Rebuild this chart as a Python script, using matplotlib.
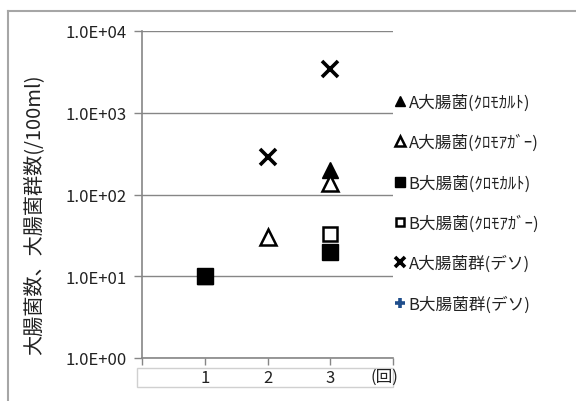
import matplotlib
matplotlib.use("Agg")
import matplotlib.pyplot as plt
import numpy as np
from matplotlib.patches import Rectangle
from matplotlib.lines import Line2D

plt.rcParams['font.family'] = ['Noto Sans CJK JP', 'DejaVu Sans']

rounds = [1, 2, 3]
a_chromocult = [10, np.nan, 200]
a_chromoagar = [np.nan, 30, 140]
b_chromocult = [10, np.nan, 20]
b_chromoagar = [np.nan, np.nan, 33]
a_coliform_deso = [np.nan, 290, 3400]
b_coliform_deso = [np.nan, np.nan, np.nan]

labels = ["A大腸菌(ｸﾛﾓｶﾙﾄ)", "A大腸菌(ｸﾛﾓｱｶﾞｰ)", "B大腸菌(ｸﾛﾓｶﾙﾄ)",
          "B大腸菌(ｸﾛﾓｱｶﾞｰ)", "A大腸菌群(デソ)", "B大腸菌群(デソ)"]
ytick_vals = [1, 10, 100, 1000, 10000]
ytick_labels = ["1.0E+00", "1.0E+01", "1.0E+02", "1.0E+03", "1.0E+04"]
ylabel = "大腸菌数、大腸菌群数(/100ml)"
xunit = "(回)"

W, H = 576, 402
fig = plt.figure(figsize=(W / 100, H / 100), dpi=100)
ax = fig.add_axes([142 / W, 1 - 359 / H, (393 - 142) / W, (359 - 32) / H])

grid_c = '#868686'
txt_c = '#222222'
ax.set_yscale('log')
ax.set_ylim(1, 10000)
ax.set_xlim(0, 4)
ax.set_yticks(ytick_vals)
ax.set_yticklabels(ytick_labels, fontsize=12, color=txt_c)
ax.yaxis.set_minor_locator(matplotlib.ticker.NullLocator())
ax.set_xticks([0, 1, 2, 3, 4])
ax.set_xticklabels(['', '1', '2', '3', ''], fontsize=12, color=txt_c)
ax.tick_params(axis='y', length=6, width=1, color=grid_c, pad=5)
ax.tick_params(axis='x', length=5, width=1, color=grid_c, pad=3)
ax.grid(axis='y', color=grid_c, lw=1)
ax.set_axisbelow(True)
for s in ['top', 'right']:
    ax.spines[s].set_visible(False)
for s in ['left', 'bottom']:
    ax.spines[s].set_color(grid_c)
    ax.spines[s].set_linewidth(1.2)

fig.text(384 / W, 1 - 377 / H, xunit, ha='center', va='center', fontsize=12, color=txt_c)

mew = 1.8
ax.plot(rounds, a_chromocult, ls='none', marker='^', ms=12, color='black', label=labels[0], clip_on=False)
ax.plot(rounds, a_chromoagar, ls='none', marker='^', ms=11, mfc='white', mec='black', mew=mew, label=labels[1], clip_on=False)
ax.plot(rounds, b_chromocult, ls='none', marker='s', ms=11, color='black', label=labels[2], clip_on=False)
ax.plot(rounds, b_chromoagar, ls='none', marker='s', ms=10, mfc='white', mec='black', mew=mew, label=labels[3], clip_on=False)
ax.plot(rounds, a_coliform_deso, ls='none', marker='x', ms=11, color='black', mew=2.6, label=labels[4], clip_on=False)
ax.plot(rounds, b_coliform_deso, ls='none', marker='+', ms=11, color='#1F4E8C', mew=2.6, label=labels[5], clip_on=False)

ax.set_ylabel(ylabel, fontsize=14.5, color=txt_c)
ax.yaxis.set_label_coords(44 / W, 0.5, transform=fig.transFigure)
ax.yaxis.label.set_y(1 - 215 / H)

leg = fig.legend(loc='upper left', bbox_to_anchor=(388 / W, 1 - 88 / H), frameon=False,
                 fontsize=12, handlelength=0.6, handletextpad=0.25, labelspacing=1.38,
                 markerscale=0.6, borderaxespad=0)
for t in leg.get_texts():
    t.set_color(txt_c)

# x tick label box
fig.add_artist(Rectangle((137 / W, 1 - 388 / H), (393 - 137) / W, (388 - 369) / H,
                         transform=fig.transFigure, fill=False, ec='#D0D0D0', lw=1))
# outer chart frame
fig.add_artist(Line2D([8 / W, 8 / W], [0, 1 - 12 / H], transform=fig.transFigure, color='#A6A6A6', lw=1.5))
fig.add_artist(Line2D([8 / W, 1], [1 - 12 / H, 1 - 12 / H], transform=fig.transFigure, color='#A6A6A6', lw=1.5))

fig.savefig('out.png', dpi=100)
